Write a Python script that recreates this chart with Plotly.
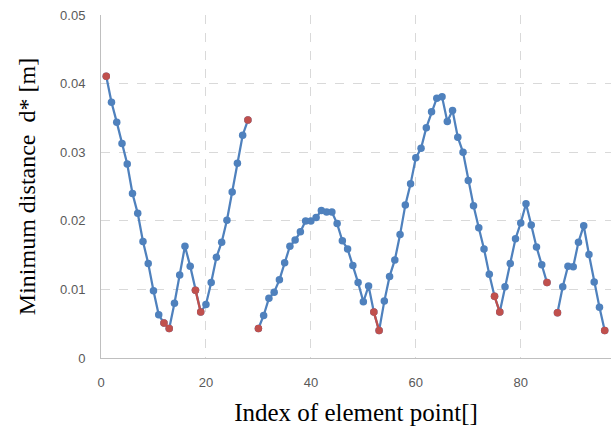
import plotly.graph_objects as go

# Data
indices = list(range(1, 97))
distances = [
    0.0411, 0.0373, 0.0344, 0.0313, 0.0283, 0.0240, 0.0211, 0.0170, 0.0138, 0.0098,  # 1-10
    0.0063, 0.0051, 0.0043, 0.0080, 0.0121, 0.0163, 0.0134, 0.0099, 0.0067, 0.0078,  # 11-20
    0.0110, 0.0147, 0.0169, 0.0201, 0.0242, 0.0284, 0.0325, 0.0347, None, 0.0043,     # 21-30
    0.0062, 0.0087, 0.0096, 0.0114, 0.0139, 0.0163, 0.0172, 0.0184, 0.0200, 0.0200,  # 31-40
    0.0205, 0.0215, 0.0213, 0.0213, 0.0196, 0.0171, 0.0159, 0.0135, 0.0110, 0.0082,  # 41-50
    0.0105, 0.0067, 0.0040, 0.0083, 0.0119, 0.0143, 0.0180, 0.0223, 0.0254, 0.0292,  # 51-60
    0.0306, 0.0336, 0.0359, 0.0379, 0.0381, 0.0345, 0.0361, 0.0322, 0.0300, 0.0259,  # 61-70
    0.0222, 0.0190, 0.0159, 0.0122, 0.0090, 0.0067, 0.0104, 0.0138, 0.0174, 0.0197,  # 71-80
    0.0225, 0.0194, 0.0162, 0.0136, 0.0110, None, 0.0066, 0.0104, 0.0134, 0.0133,    # 81-90
    0.0169, 0.0193, 0.0151, 0.0111, 0.0074, 0.0040,                                  # 91-96
]
red_indices = [1, 12, 13, 18, 19, 28, 30, 52, 53, 75, 76, 85, 87, 96]
red_segments = [(12, 13), (18, 19), (52, 53), (75, 76)]
x_ticks = [0, 20, 40, 60, 80]
y_ticks = [0, 0.01, 0.02, 0.03, 0.04, 0.05]
y_tick_labels = ["0", "0.01", "0.02", "0.03", "0.04", "0.05"]

BLUE = "#4F81BD"
RED = "#C0504D"

lookup = dict(zip(indices, distances))

fig = go.Figure()
fig.add_trace(go.Scatter(
    x=indices, y=distances, mode="lines+markers",
    line=dict(color=BLUE, width=2.25),
    marker=dict(color=BLUE, size=7.5),
    connectgaps=False, showlegend=False, hoverinfo="skip", cliponaxis=False,
))

seg_x, seg_y = [], []
for a, b in red_segments:
    seg_x += [a, b, None]
    seg_y += [lookup[a], lookup[b], None]
fig.add_trace(go.Scatter(
    x=seg_x, y=seg_y, mode="lines",
    line=dict(color=RED, width=2.25),
    showlegend=False, hoverinfo="skip", cliponaxis=False,
))
fig.add_trace(go.Scatter(
    x=red_indices, y=[lookup[i] for i in red_indices], mode="markers",
    marker=dict(color=RED, size=7.5),
    showlegend=False, hoverinfo="skip", cliponaxis=False,
))

tick_font = dict(family="Liberation Sans, Arial, sans-serif", size=13, color="#595959")
x_title_font = dict(family="Liberation Serif, Times New Roman, serif", size=25, color="#000000")
y_title_font = dict(family="Liberation Serif, Times New Roman, serif", size=24, color="#000000")

fig.update_layout(
    width=611, height=433,
    margin=dict(l=101, r=0, t=15, b=75),
    paper_bgcolor="white", plot_bgcolor="white",
    xaxis=dict(
        range=[0, 97.2], tickvals=x_ticks, ticktext=[str(v) for v in x_ticks],
        showgrid=True, gridcolor="#D9D9D9", griddash="dash", gridwidth=1,
        showline=True, linecolor="#BFBFBF", linewidth=1,
        zeroline=False, ticks="", tickfont=tick_font, ticklabelstandoff=12,
        title=dict(text="Index of element point[]", font=x_title_font, standoff=14),
    ),
    yaxis=dict(
        range=[0, 0.05003], tickvals=y_ticks, ticktext=y_tick_labels,
        showgrid=True, gridcolor="#D9D9D9", griddash="dash", gridwidth=1,
        showline=True, linecolor="#BFBFBF", linewidth=1,
        zeroline=False, ticks="", tickfont=tick_font, ticklabelstandoff=12,
        ticklabeloverflow="allow",
        title=dict(text="Minimum distance  d* [m]", font=y_title_font, standoff=17),
    ),
)

fig.write_html(
    "out.html",
    config={"displayModeBar": False},
    post_script="document.body.style.margin='0';document.body.style.overflow='hidden';",
)
